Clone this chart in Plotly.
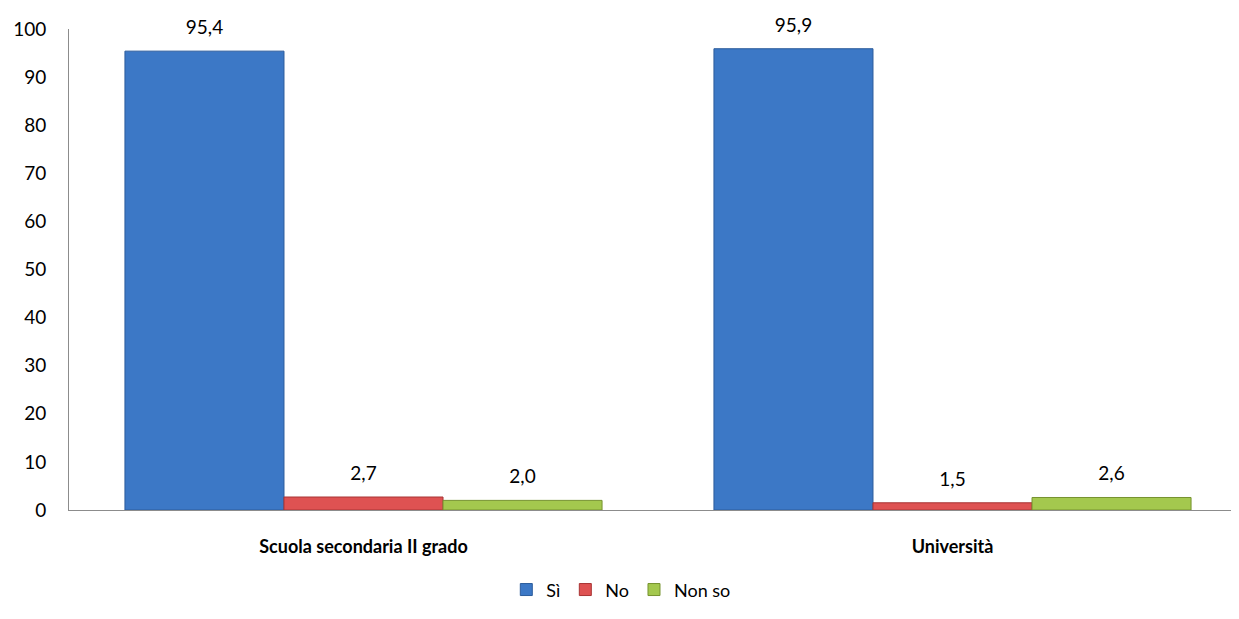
import plotly.graph_objects as go

categories = ["Scuola secondaria II grado", "Università"]
series_names = ["Sì", "No", "Non so"]
si_values = [95.4, 95.9]
no_values = [2.7, 1.5]
nonso_values = [2.0, 2.6]
y_ticks = [0, 10, 20, 30, 40, 50, 60, 70, 80, 90, 100]

colors = ["#3C78C6", "#DE5252", "#A4C84E"]
line_colors = ["#2C5C9C", "#A83434", "#76922F"]

def fmt(v):
    return f"{v:.1f}".replace(".", ",")

FONT = "Lato, Open Sans, sans-serif"

fig = go.Figure()
for i, (name, vals, c, lc) in enumerate(zip(series_names, [si_values, no_values, nonso_values], colors, line_colors)):
    fig.add_trace(go.Bar(
        name=name, x=categories, y=vals, offsetgroup=str(i),
        marker=dict(color=c, line=dict(color=lc, width=1)),
    ))
for i, vals in enumerate([si_values, no_values, nonso_values]):
    fig.add_trace(go.Scatter(
        x=categories, y=vals, offsetgroup=str(i), mode="markers+text",
        marker=dict(size=18, opacity=0), text=[fmt(v) for v in vals],
        textposition="top center", textfont=dict(size=19, color="#000000", family=FONT),
        showlegend=False, hoverinfo="skip", cliponaxis=False,
    ))

fig.update_layout(
    barmode="group", bargap=0.19, bargroupgap=0,
    scattermode="group", scattergap=0.19,
    width=1239, height=619,
    margin=dict(l=61, r=0, t=21, b=117, autoexpand=False),
    paper_bgcolor="white", plot_bgcolor="white",
    font=dict(family=FONT, size=19, color="#000000"),
    legend=dict(orientation="h", xref="container", x=0.495, xanchor="center",
                y=-0.166, yanchor="middle",
                font=dict(size=18), traceorder="normal", itemwidth=30),
    showlegend=True,
)
fig.update_yaxes(range=[0, 100], tickvals=y_ticks, showgrid=False, zeroline=False,
                 showline=True, linecolor="#8C8C8C", linewidth=1, ticks="",
                 tickfont=dict(size=19), automargin=False, ticklabelstandoff=18)
fig.update_xaxes(showline=True, linecolor="#8C8C8C", linewidth=1, ticks="",
                 tickfont=dict(size=18, family=FONT), automargin=False,
                 tickprefix="<b>", ticksuffix="</b>", ticklabelstandoff=20)

fig.write_html("out.html")
